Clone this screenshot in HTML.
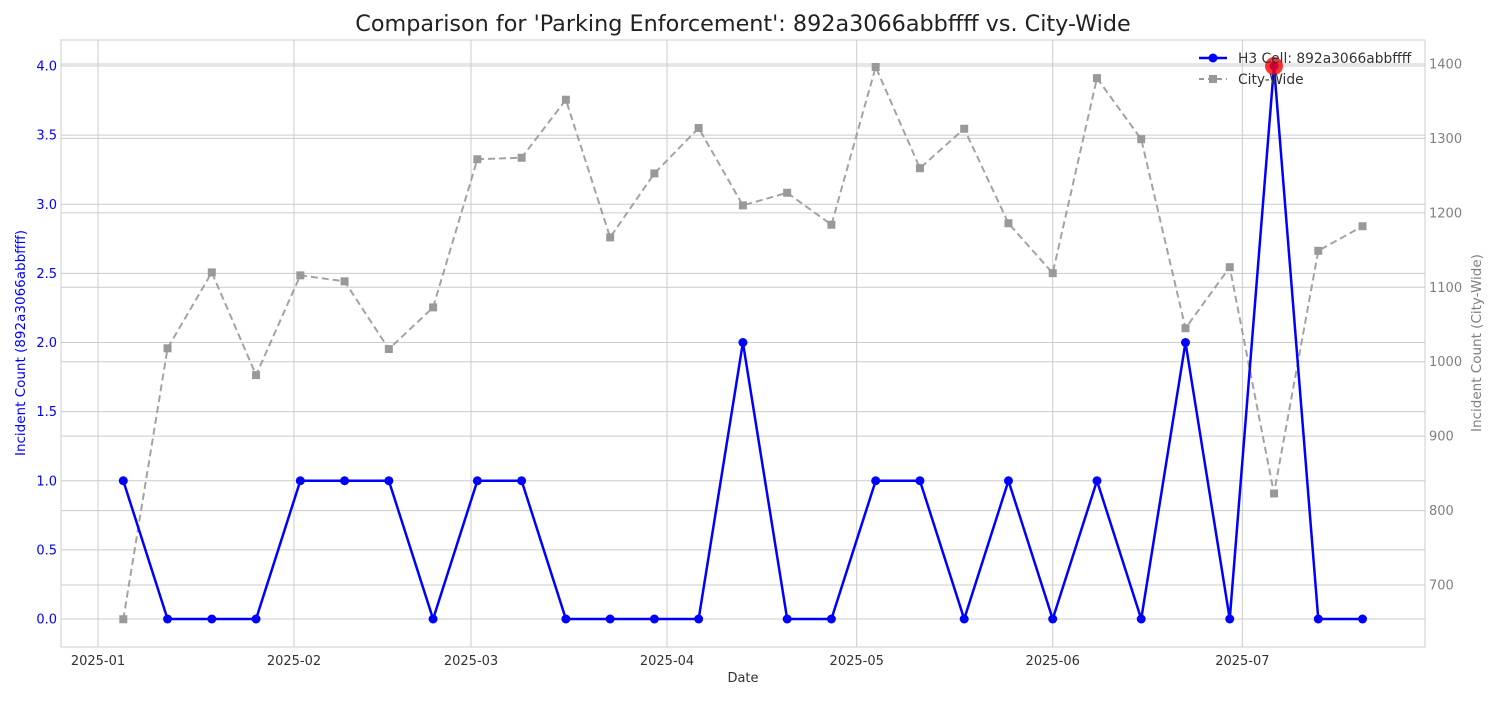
<!DOCTYPE html>
<html><head><meta charset="utf-8"><style>
body{margin:0;background:#fff;font-family:"DejaVu Sans","Liberation Sans",sans-serif;}
svg text{font-family:"DejaVu Sans","Liberation Sans",sans-serif;}
</style></head><body>
<svg id="chart" width="1500" height="700" xmlns="http://www.w3.org/2000/svg"></svg>
<script>
const dates=["2025-01-05","2025-01-12","2025-01-19","2025-01-26","2025-02-02","2025-02-09","2025-02-16","2025-02-23","2025-03-02","2025-03-09","2025-03-16","2025-03-23","2025-03-30","2025-04-06","2025-04-13","2025-04-20","2025-04-27","2025-05-04","2025-05-11","2025-05-18","2025-05-25","2025-06-01","2025-06-08","2025-06-15","2025-06-22","2025-06-29","2025-07-06","2025-07-13","2025-07-20"];
const h3Values=[1,0,0,0,1,1,1,0,1,1,0,0,0,0,2,0,0,1,1,0,1,0,1,0,2,0,4,0,0];
const cityValues=[654,1018,1120,982,1116,1108,1017,1073,1272,1274,1352,1167,1253,1314,1210,1227,1184,1396,1260,1313,1186,1119,1381,1299,1045,1127,823,1149,1182];
const monthTicks=["2025-01","2025-02","2025-03","2025-04","2025-05","2025-06","2025-07"];
const leftTicks=[0,0.5,1,1.5,2,2.5,3,3.5,4];
const rightTicks=[700,800,900,1000,1100,1200,1300,1400];

const svg=document.getElementById('chart');
const NS="http://www.w3.org/2000/svg";
const L=61,R=1425,T=40,B=647;
const base=Date.UTC(2025,0,1);
function xs(d){const t=(Date.parse(d.length===7?d+"-01":d)-base)/86400000;return 98+t*6.3226;}
function yl(v){return 619-v*138.25;}
function yr(v){return 585-(v-700)*0.7443;}
function el(tag,attrs,parent){const e=document.createElementNS(NS,tag);for(const k in attrs)e.setAttribute(k,attrs[k]);(parent||svg).appendChild(e);return e;}
function txt(s,attrs){const e=el('text',attrs);e.textContent=s;return e;}

el('rect',{x:L,y:T,width:R-L,height:B-T,fill:'#fff',stroke:'#ccc','stroke-width':1});
monthTicks.forEach(m=>{const x=xs(m);
 const g=el('line',{x1:x,x2:x,y1:T,y2:B,stroke:'#ccc','stroke-width':1});
 
 const t=txt(m,{x:x,y:B+18,'text-anchor':'middle','font-size':13,fill:'#333'});
 });
leftTicks.forEach(v=>{const y=yl(v);
 const g=el('line',{x1:L,x2:R,y1:y,y2:y,stroke:'#ccc','stroke-width':1});
 
 const t=txt(v.toFixed(1),{x:L-4,y:y+4.5,'text-anchor':'end','font-size':13,fill:'blue'});
 });
rightTicks.forEach(v=>{const y=yr(v);
 const g=el('line',{x1:L,x2:R,y1:y,y2:y,stroke:'#ccc','stroke-width':1});
 
 const t=txt(String(v),{x:R+4,y:y+4.5,'font-size':13,fill:'gray'});
 });

const cp=el('polyline',{points:cityValues.map((v,i)=>xs(dates[i])+','+yr(v)).join(' '),fill:'none',stroke:'#999','stroke-width':2,'stroke-dasharray':'7,4',opacity:0.9});

cityValues.forEach((v,i)=>{const r=el('rect',{x:xs(dates[i])-4,y:yr(v)-4,width:8,height:8,fill:'#999'});
 });
const hp=el('polyline',{points:h3Values.map((v,i)=>xs(dates[i])+','+yl(v)).join(' '),fill:'none',stroke:'blue','stroke-width':2.5});

h3Values.forEach((v,i)=>{const c=el('circle',{cx:xs(dates[i]),cy:yl(v),r:4.5,fill:'blue'});
 });
let mi=0;h3Values.forEach((v,i)=>{if(v>h3Values[mi])mi=i;});
const hl=el('circle',{cx:xs(dates[mi]),cy:yl(h3Values[mi]),r:9,fill:'red',opacity:0.8});


const lg=el('g',{});
el('line',{x1:1199,x2:1227,y1:58,y2:58,stroke:'blue','stroke-width':2.5},lg);
el('circle',{cx:1213,cy:58,r:4.5,fill:'blue'},lg);
const l1=document.createElementNS(NS,'text');l1.setAttribute('x',1238);l1.setAttribute('y',63);l1.setAttribute('font-size',13.8);l1.setAttribute('fill','#333');l1.textContent="H3 Cell: 892a3066abbffff";lg.appendChild(l1);
el('line',{x1:1199,x2:1227,y1:79,y2:79,stroke:'#999','stroke-width':2,'stroke-dasharray':'5,4'},lg);
el('rect',{x:1209,y:75,width:8,height:8,fill:'#999'},lg);
const l2=document.createElementNS(NS,'text');l2.setAttribute('x',1238);l2.setAttribute('y',84);l2.setAttribute('font-size',13.8);l2.setAttribute('fill','#333');l2.textContent="City-Wide";lg.appendChild(l2);

const tt=txt("Comparison for 'Parking Enforcement': 892a3066abbffff vs. City-Wide",{x:743,y:31,'text-anchor':'middle','font-size':22.3,fill:'#222'});

const xt=txt("Date",{x:743,y:682,'text-anchor':'middle','font-size':13,fill:'#333'});

const ylt=txt("Incident Count (892a3066abbffff)",{x:0,y:0,'text-anchor':'middle','font-size':13.5,fill:'blue',transform:'translate(25,343) rotate(-90)'});

const yrt=txt("Incident Count (City-Wide)",{x:0,y:0,'text-anchor':'middle','font-size':13.5,fill:'gray',transform:'translate(1481,343) rotate(-90)'});

</script>
</body></html>
